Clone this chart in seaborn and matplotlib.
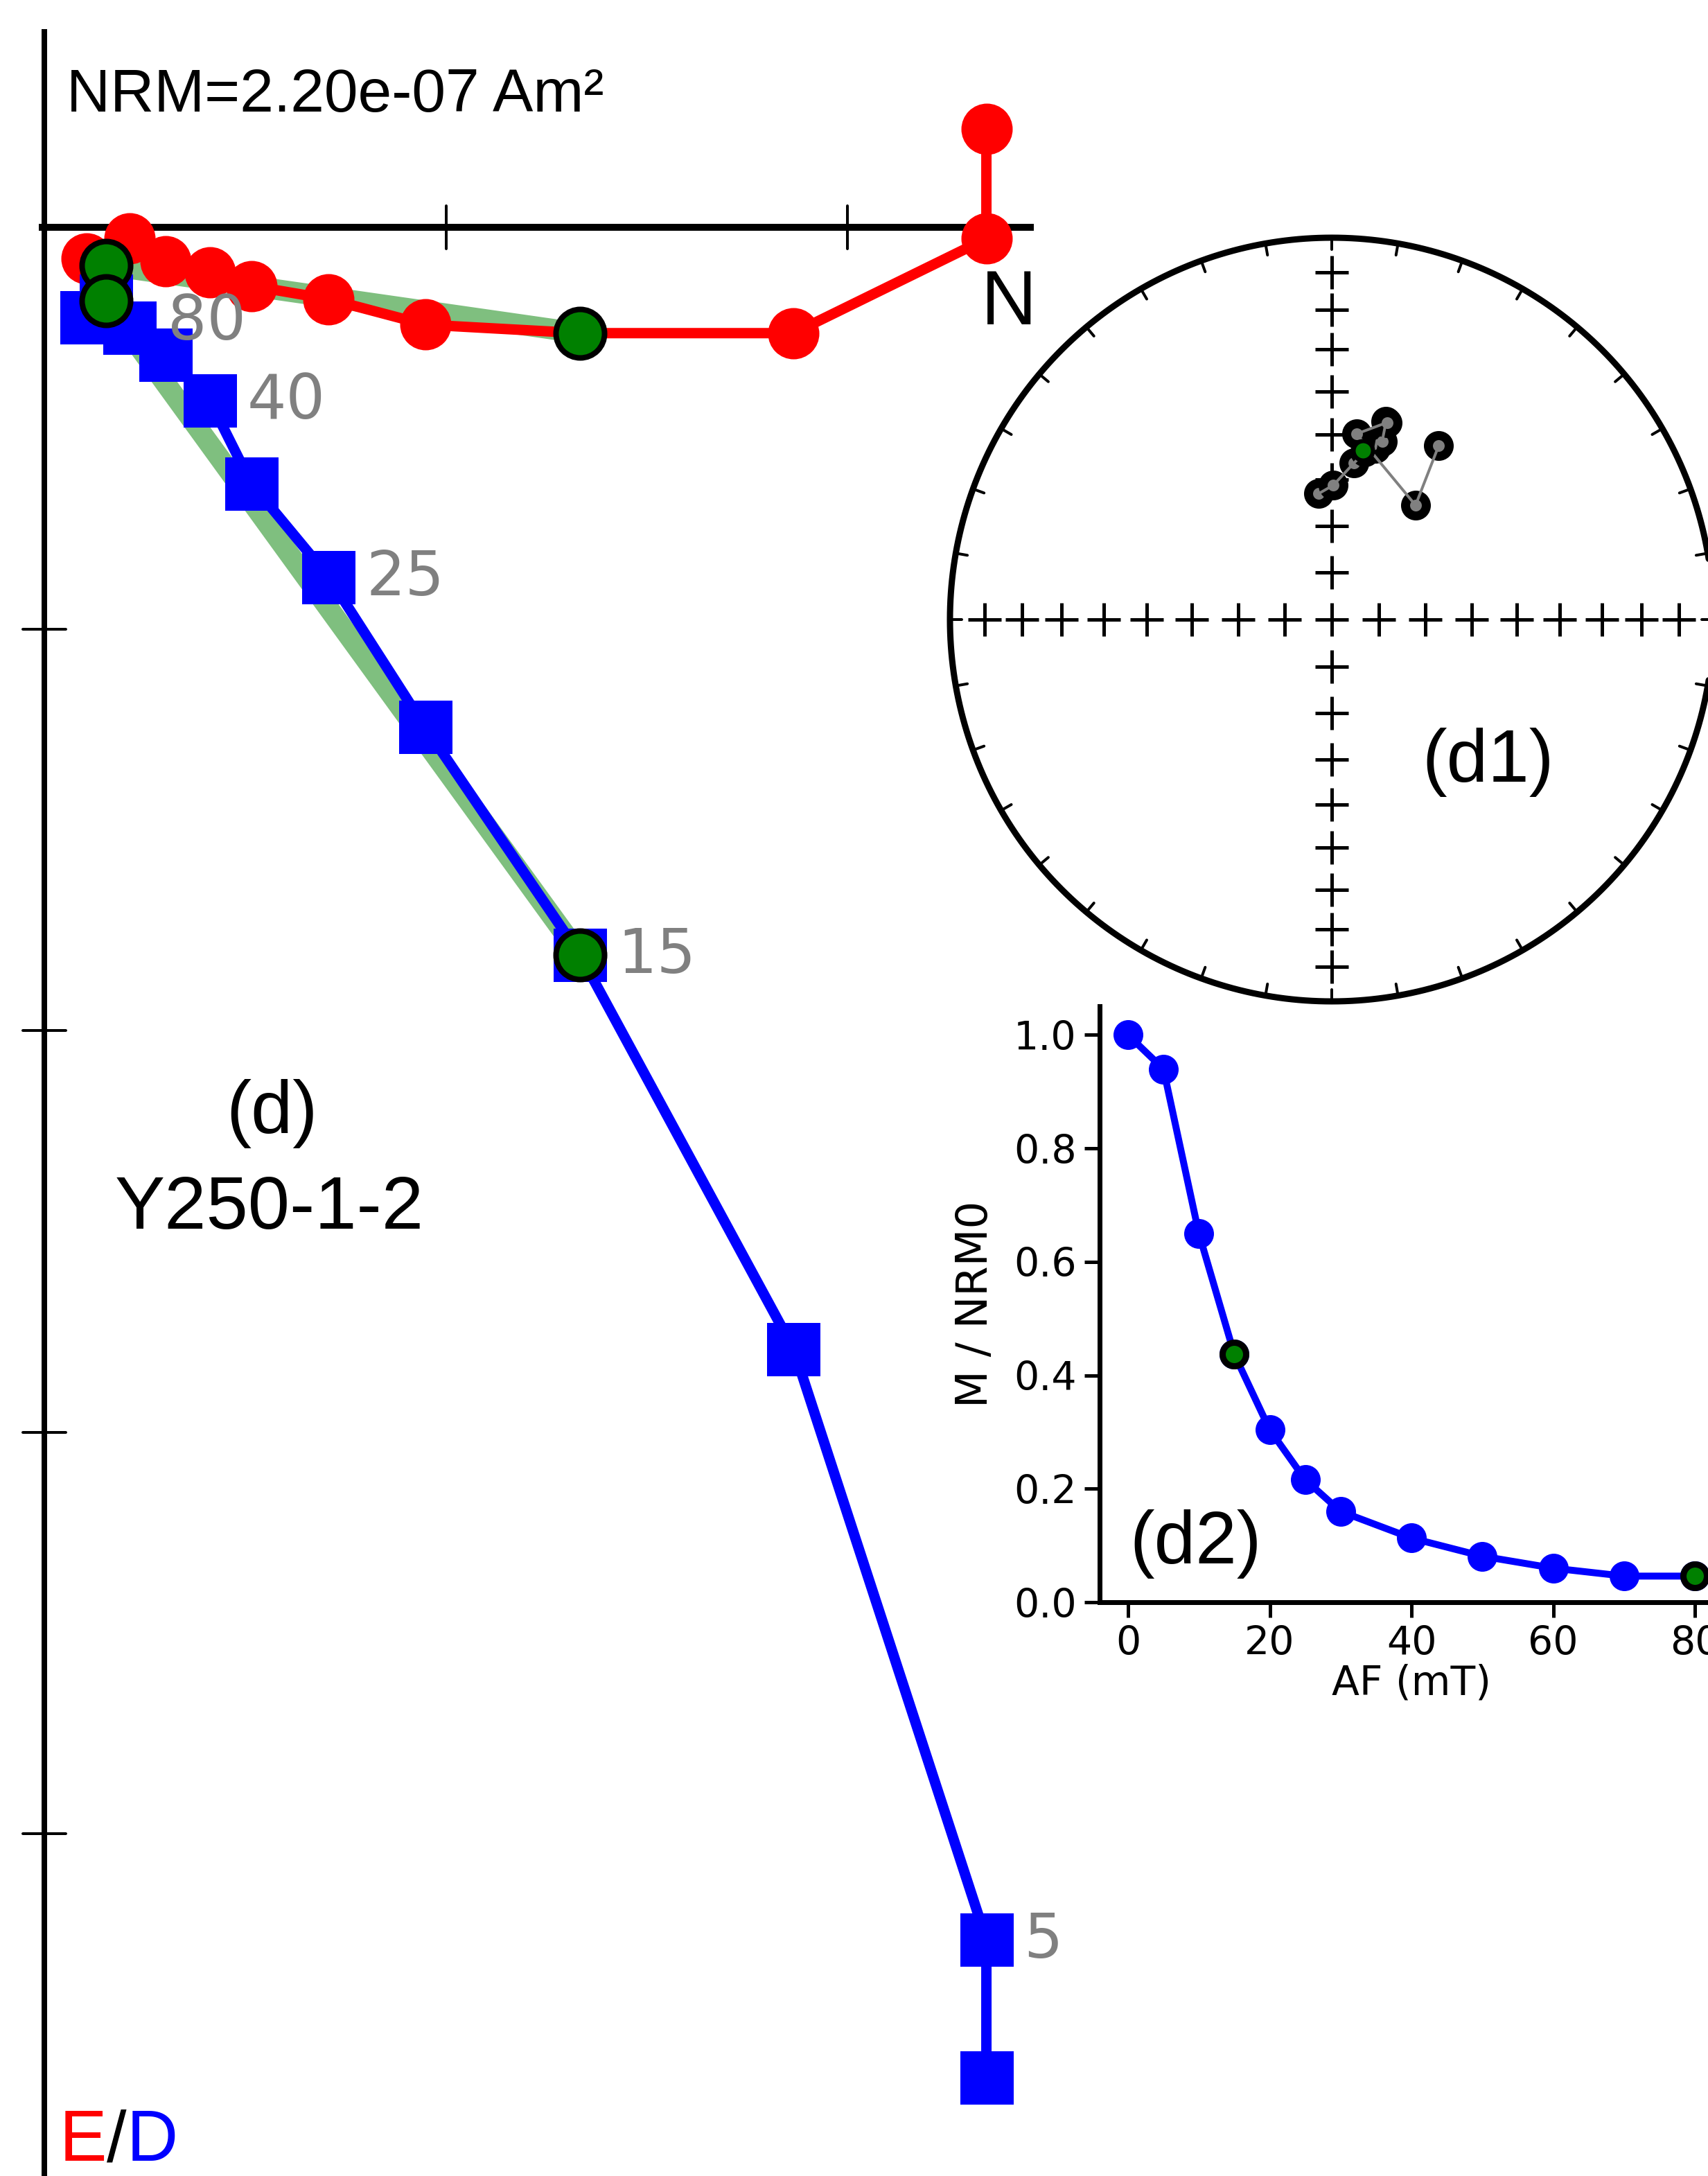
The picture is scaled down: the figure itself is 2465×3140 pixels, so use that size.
import numpy as np
import pandas as pd
import matplotlib
matplotlib.use("Agg")
import matplotlib.pyplot as plt
import seaborn as sns

# ---------------- data ----------------
steps = [0, 5, 10, 15, 20, 25, 30, 40, 50, 60, 70, 80]            # AF step (mT)
north = [9.97, 9.97, 7.93, 5.67, 4.03, 3.01, 2.19, 1.75, 1.28, 0.90, 0.45, 0.65]   # x (1e-8 Am2)
east = [-1.04, 0.12, 1.12, 1.12, 1.03, 0.76, 0.62, 0.48, 0.36, 0.12, 0.33, 0.40]   # y (1e-8 Am2)
down = [19.58, 18.12, 11.87, 7.70, 5.29, 3.70, 2.71, 1.83, 1.35, 1.06, 0.95, 0.78]  # z (1e-8 Am2)
m_over_nrm0 = [1.0, 0.94, 0.65, 0.437, 0.304, 0.216, 0.160, 0.113, 0.081, 0.060, 0.046, 0.046]
fit_steps = [15, 80]
fit_dec, fit_inc = 10.5, 52.9
labelled_steps = [5, 15, 25, 40, 80]
zij_tick = 4.25
nrm_label = "NRM=2.20e-07 Am\u00b2"
panel_label = "(d)"
specimen = "Y250-1-2"
stereo_label = "(d1)"
demag_label = "(d2)"
d2_xticks = [0, 20, 40, 60, 80]
d2_yticks = [0.0, 0.2, 0.4, 0.6, 0.8, 1.0]

df = pd.DataFrame(dict(step=steps, N=north, E=east, D=down, M=m_over_nrm0))
fit = df[df.step.isin(fit_steps)]

# ---------------- figure ----------------
sns.set_theme(style="ticks")
plt.rcParams["font.family"] = ["DejaVu Sans"]
plt.rcParams["text.color"] = "black"
plt.rcParams["axes.labelcolor"] = "black"
ARIAL = ["Liberation Sans", "DejaVu Sans"]

W, H, DPI = 2465, 3140, 100
PT = 72.0 / DPI            # points per pixel
fig = plt.figure(figsize=(W / DPI, H / DPI), dpi=DPI)
fig.patch.set_facecolor("white")


def fx(px):
    return px / W


def fy(py):
    return 1.0 - py / H


# ---------------- Zijderveld diagram ----------------
K = 22.0 / 3000.0          # data units per pixel
X0, Y0 = 64, 328           # origin pixel
ax = fig.add_axes([0, 0, 1, 1])
ax.patch.set_alpha(0)

x_lo, x_hi = -0.06, 1.05 * max(north)
y_lo, y_hi = -2.10, 1.10 * max(down)
ax.plot([x_lo, x_hi], [0, 0], color="black", lw=10 * PT, solid_capstyle="butt", zorder=1)
ax.plot([0, 0], [y_lo, y_hi], color="black", lw=8 * PT, solid_capstyle="butt", zorder=1)
half = 31 * K
for t in np.arange(zij_tick, x_hi, zij_tick):
    ax.plot([t, t], [-half, half], color="black", lw=4 * PT, zorder=1)
for t in np.arange(zij_tick, y_hi, zij_tick):
    ax.plot([-half, half], [t, t], color="black", lw=4 * PT, zorder=1)

# best-fit line (from first to last fitted step)
ax.plot(fit.N, fit.E, color="green", alpha=0.5, lw=30 * PT, solid_capstyle="butt", zorder=2)
ax.plot(fit.N, fit.D, color="green", alpha=0.5, lw=30 * PT, solid_capstyle="butt", zorder=2)

sns.lineplot(data=df, x="N", y="E", sort=False, estimator=None, ax=ax, color="red",
             lw=15 * PT, marker="o", markersize=74 * PT, markeredgewidth=0, zorder=3)
sns.lineplot(data=df, x="N", y="D", sort=False, estimator=None, ax=ax, color="blue",
             lw=15 * PT, marker="s", markersize=77 * PT, markeredgewidth=0, zorder=4)

ax.plot(fit.N, fit.E, "o", color="green", mec="black", ms=70 * PT, mew=8 * PT, zorder=5)
ax.plot(fit.N, fit.D, "o", color="green", mec="black", ms=70 * PT, mew=8 * PT, zorder=5)

for s in labelled_steps:
    r = df[df.step == s].iloc[0]
    dx, dy = (54, -26) if s != 80 else (89, -56)
    ax.annotate(str(s), (r.N, r.D), xytext=(dx * PT, dy * PT), textcoords="offset points",
                ha="left", va="baseline", color="gray", fontsize=64, zorder=6)

ax.set_xlim(-X0 * K, (W - X0) * K)
ax.set_ylim((H - Y0) * K, -Y0 * K)
ax.axis("off")

fig.text(fx(96), fy(161), nrm_label, family=ARIAL, fontsize=63, ha="left", va="baseline",
         color="black")
fig.text(fx(1456), fy(468), "N", family=ARIAL, fontsize=80, ha="center", va="baseline",
         color="black")
fig.text(fx(392), fy(1635), panel_label, family=ARIAL, fontsize=78, ha="center",
         va="baseline", color="black")
fig.text(fx(389), fy(1773), specimen, family=ARIAL, fontsize=78, ha="center",
         va="baseline", color="black")

t1 = fig.text(fx(86), fy(3118), "E", family=ARIAL, fontsize=74, color="red",
              ha="left", va="baseline")
t2 = fig.add_artist(plt.Annotation("/", xy=(1, 0), xycoords=t1, va="bottom", ha="left",
                                   family=ARIAL, fontsize=74, color="black"))
t3 = fig.add_artist(plt.Annotation("D", xy=(1, 0), xycoords=t2, va="bottom", ha="left",
                                   family=ARIAL, fontsize=74, color="blue"))

# ---------------- equal-area stereonet ----------------
CX, CY, R = 1922, 894, 551
ax3 = fig.add_axes([fx(CX - 1.1 * R), fy(CY + 1.1 * R), 2.2 * R / W, 2.2 * R / H])
ax3.patch.set_alpha(0)
ax3.axis("off")

th = np.linspace(0, 2 * np.pi, 721)
ax3.plot(np.cos(th), np.sin(th), color="black", lw=9 * PT, zorder=1)
r_in = 1 - 17.0 / R
for az in range(0, 360, 10):
    a = np.radians(az)
    ax3.plot([np.sin(a), r_in * np.sin(a)], [np.cos(a), r_in * np.cos(a)],
             color="black", lw=4 * PT, zorder=1)


def eqarea(dec, inc):
    r = np.sqrt(2) * np.sin(np.radians(90 - np.asarray(inc)) / 2)
    d = np.radians(np.asarray(dec))
    return r * np.sin(d), r * np.cos(d)


cx, cy = [], []
for inc in range(10, 91, 10):
    for az in ([0, 90, 180, 270] if inc < 90 else [0]):
        px, py = eqarea(az, inc)
        cx.append(px)
        cy.append(py)
ax3.plot(cx, cy, "+", color="black", ms=48 * PT, mew=5 * PT, zorder=2)

dec = np.degrees(np.arctan2(df.E, df.N))
inc = np.degrees(np.arctan2(df.D, np.hypot(df.N, df.E)))
sx, sy = eqarea(dec, inc)
sns.lineplot(x=sx, y=sy, sort=False, estimator=None, ax=ax3, lw=0, marker="o",
             markersize=30 * PT, markerfacecolor="gray", markeredgecolor="black",
             markeredgewidth=13 * PT, color="gray", zorder=3)
ax3.plot(sx, sy, color="gray", lw=4 * PT, zorder=4)
gx, gy = eqarea(fit_dec, fit_inc)
ax3.plot([gx], [gy], "o", color="green", mec="black", ms=28 * PT, mew=6 * PT, zorder=5)
ax3.set_xlim(-1.1, 1.1)
ax3.set_ylim(-1.1, 1.1)
ax3.set_xlabel("")
ax3.set_ylabel("")
fig.text(fx(2148), fy(1128), stereo_label, family=ARIAL, fontsize=77, ha="center",
         va="baseline", color="black")

# ---------------- demagnetisation curve ----------------
L2, B2 = 1587, 2312
ax2 = fig.add_axes([fx(L2), fy(B2), 88 * 10.23 / W, 1.05 * 818.6 / H])
ax2.patch.set_alpha(0)
sns.lineplot(data=df, x="step", y="M", sort=False, estimator=None, ax=ax2, color="blue",
             lw=10 * PT, marker="o", markersize=43 * PT, markeredgewidth=0, zorder=3)
ax2.plot(fit.step, fit.M, "o", color="green", mec="black", ms=34 * PT, mew=9 * PT, zorder=4)
ax2.set_xlim(-4, 84)
ax2.set_ylim(0, 1.05)
ax2.set_xticks(d2_xticks)
ax2.set_yticks(d2_yticks)
ax2.set_yticklabels([f"{v:.1f}" for v in d2_yticks])
ax2.tick_params(direction="out", length=22 * PT, width=5 * PT, labelsize=41,
                pad=11.5 * PT, color="black", labelcolor="black")
sns.despine(ax=ax2)
for sp in ("left", "bottom"):
    ax2.spines[sp].set_linewidth(7 * PT)
    ax2.spines[sp].set_color("black")
ax2.set_xlabel("AF (mT)", fontsize=42, labelpad=0, color="black")
ax2.set_ylabel("M / NRM0", fontsize=45, labelpad=18, color="black")
fig.text(fx(1726), fy(2256), demag_label, family=ARIAL, fontsize=77, ha="center",
         va="baseline", color="black")

fig.savefig("out.png", dpi=DPI, facecolor="white")
